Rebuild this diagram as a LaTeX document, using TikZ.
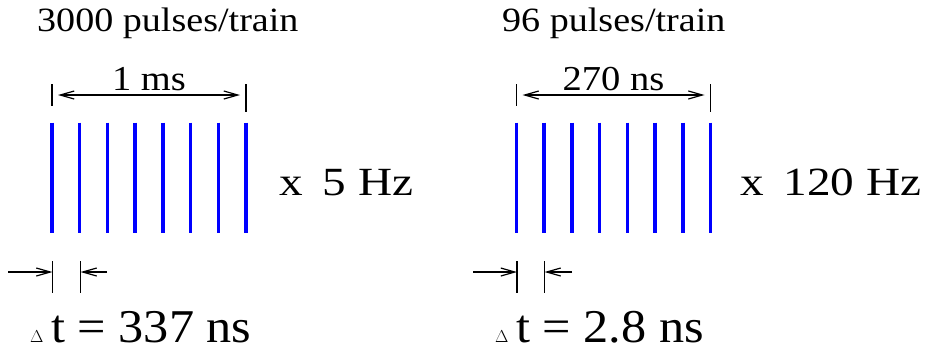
\documentclass[tikz,border=0pt]{standalone}
\usepackage{fontspec}
\setmainfont{Liberation Serif}
\newfontfamily\titlefont[FakeStretch=1.12]{Liberation Serif}
\newfontfamily\labelfont[FakeStretch=1.10]{Liberation Serif}
\newfontfamily\ratefont[FakeStretch=1.18]{Liberation Serif}
\newfontfamily\dtfont[FakeStretch=1.07]{Liberation Serif}
\usetikzlibrary{arrows.meta}
\tikzset{
  pulse/.style={draw=blue, line width=3.5pt},
  tick/.style={draw, line width=1.2pt},
  dimline/.style={line width=1.2pt},
  title/.style={anchor=base west, inner sep=0pt, font=\titlefont\fontsize{34}{40}\selectfont},
  lenlabel/.style={above=4pt, inner sep=0pt, font=\labelfont\fontsize{35}{40}\selectfont},
  rate/.style={anchor=base west, inner sep=0pt, font=\ratefont\fontsize{40}{46}\selectfont},
  spacing/.style={anchor=base west, inner sep=0pt, font=\dtfont\fontsize{47}{52}\selectfont},
}
\begin{document}
\begin{tikzpicture}[x=1pt, y=-1pt, >={Straight Barb[length=14pt,width=8pt]}]
\useasboundingbox (0,0) rectangle (928,351);

% left train, 5 Hz
\node[title] (trainA) at (37,31) {3000 pulses/train};
\foreach \i in {0,...,7}
  \draw[pulse] (52+\i*27.71,122.5) -- (52+\i*27.71,233);
\coordinate (aTopL) at (52,84);
\coordinate (aTopLb) at (52,106);
\coordinate (aTopR) at (246,84);
\coordinate (aTopRb) at (246,112);
\draw[tick] (aTopL) -- (aTopLb);
\draw[tick] (aTopR) -- (aTopRb);
\coordinate (aMsL) at (52,95);
\coordinate (aMsR) at (246,95);
\draw[dimline, <->, shorten <=6pt, shorten >=6pt] (aMsL) -- node[lenlabel] (lenA) {1 ms} (aMsR);
\node[rate] (rateA) at (279,195) {x\hspace{0.5em}5 Hz};

\coordinate (aDtL) at (52.5,261);
\coordinate (aDtLb) at (52.5,293);
\coordinate (aDtR) at (80.5,261);
\coordinate (aDtRb) at (80.5,293);
\draw[tick] (aDtL) -- (aDtLb);
\draw[tick] (aDtR) -- (aDtRb);
\coordinate (aInL) at (8,272);
\coordinate (aInR) at (107,272);
\draw[dimline, ->] (aInL) -- (aDtL |- aInL);
\draw[dimline, ->] (aInR) -- (aDtR |- aInR);
\node[spacing] (dtA) at (30,342) {{\fontsize{18}{20}\selectfont$\Delta$}\,t = 337 ns};

% right train, 120 Hz
\node[title] (trainB) at (502,31) {96 pulses/train};
\foreach \i in {0,...,7}
  \draw[pulse] (516.5+\i*27.71,122.5) -- (516.5+\i*27.71,233);
\coordinate (bTopL) at (516.5,84);
\coordinate (bTopLb) at (516.5,106);
\coordinate (bTopR) at (710.5,84);
\coordinate (bTopRb) at (710.5,112);
\draw[tick] (bTopL) -- (bTopLb);
\draw[tick] (bTopR) -- (bTopRb);
\coordinate (bNsL) at (516.5,95);
\coordinate (bNsR) at (710.5,95);
\draw[dimline, <->, shorten <=6pt, shorten >=6pt] (bNsL) -- node[lenlabel] (lenB) {270 ns} (bNsR);
\node[rate] (rateB) at (740,195) {x\hspace{0.5em}120 Hz};

\coordinate (bDtL) at (517,261);
\coordinate (bDtLb) at (517,293);
\coordinate (bDtR) at (544.5,261);
\coordinate (bDtRb) at (544.5,293);
\draw[tick] (bDtL) -- (bDtLb);
\draw[tick] (bDtR) -- (bDtRb);
\coordinate (bInL) at (473,272);
\coordinate (bInR) at (572,272);
\draw[dimline, ->] (bInL) -- (bDtL |- bInL);
\draw[dimline, ->] (bInR) -- (bDtR |- bInR);
\node[spacing] (dtB) at (495,342) {{\fontsize{18}{20}\selectfont$\Delta$}\,t = 2.8 ns};
\end{tikzpicture}
\end{document}
